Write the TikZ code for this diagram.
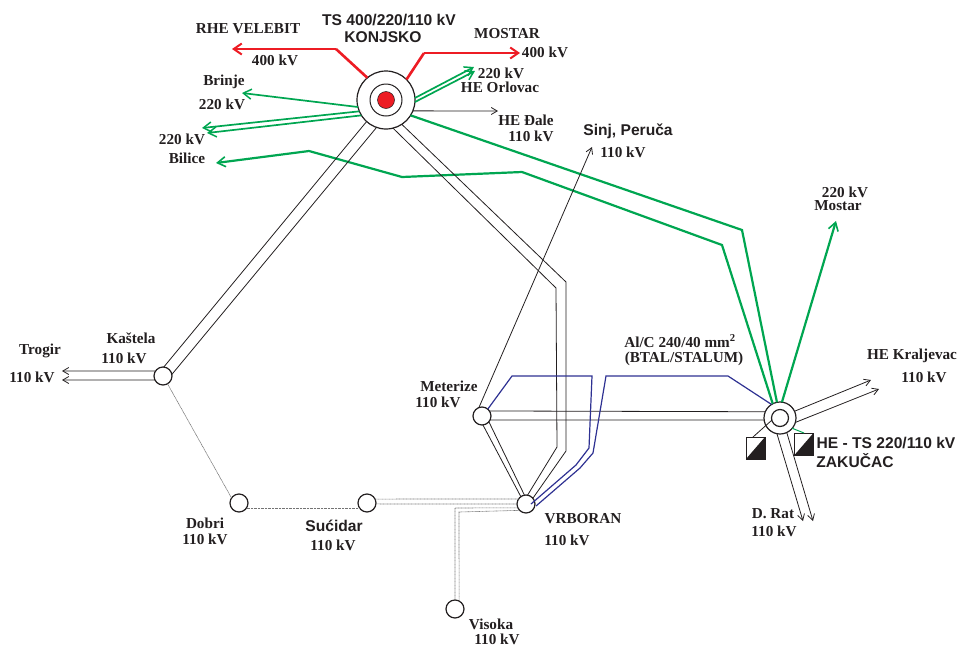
\documentclass[tikz,border=0pt]{standalone}
\usepackage{fontspec}
\setmainfont{Liberation Serif}
\newfontfamily\hfont{Liberation Sans}
\usetikzlibrary{arrows.meta}
\definecolor{gr}{HTML}{00A651}
\definecolor{rd}{HTML}{ED1C24}
\definecolor{bl}{HTML}{2E3192}
\definecolor{ink}{HTML}{231F20}
\tikzset{
  x=1pt,y=-1pt,
  st/.style={circle,draw=ink,fill=white,line width=1.2pt,minimum size=#1,inner sep=0pt,outer sep=0pt},
  lb/.style={font=\fontsize{15.2}{17}\selectfont\bfseries,text=ink,inner sep=0pt},
  hb/.style={font=\fontsize{15.6}{18}\selectfont\bfseries\hfont,text=ink,inner sep=0pt},
  ar/.style={-{Straight Barb[length=6pt,width=7pt,line width=.8pt]}},
  redl/.style={draw=rd,line width=2.6pt},
  redar/.style={redl,-{Straight Barb[length=8pt,width=11pt,line width=2pt]}},
  grn/.style={draw=gr,line width=2.2pt},
  grnar/.style={draw=gr,line width=1.7pt,-{Straight Barb[length=8pt,width=10pt,line width=1.5pt]}},
  blk/.style={draw=ink,line width=.8pt},
  blkar/.style={blk,ar},
  blu/.style={draw=bl,line width=1.2pt},
  dot/.style={draw=black!55,line width=.6pt,dash pattern=on .9pt off .5pt},
  sq/.style={rectangle,draw=ink,fill=white,line width=.8pt,inner sep=0pt,outer sep=0pt,minimum width=19pt,minimum height=22pt},
}
\begin{document}
\begin{tikzpicture}
\useasboundingbox (0,0) rectangle (959,646);
\clip (0,0) rectangle (959,646);
% stations
\node[st=58pt] (kon) at (386,100) {};
\node[st=32pt,fill=none,line width=1pt] (koni) at (386,100) {};
\node[circle,fill=rd,draw=ink,line width=.5pt,minimum size=17pt,inner sep=0pt] (konc) at (386,100) {};
\node[st=32pt] (zak) at (780,418) {};
\node[st=17pt] (zaki) at (780,418) {};
\node[st=18pt] (kas) at (163,376) {};
\node[st=18pt] (dob) at (239,503) {};
\node[st=18pt] (suc) at (367,503) {};
\node[st=18pt] (vrb) at (526,504) {};
\node[st=18pt] (met) at (482,416) {};
\node[st=18pt] (vis) at (455,609) {};
\node[sq] (b1) at (755.5,448) {};
\node[sq] (b2) at (804,444) {};
\fill[ink] (b1.north east) -- (b1.south east) -- (b1.south west) -- cycle;
\fill[ink] (b2.north east) -- (b2.south east) -- (b2.south west) -- cycle;
% free ends
\coordinate (tRhe) at (232,49);
\coordinate (bRhe) at (336,49);
\coordinate (bMos) at (424,53);
\coordinate (tMos) at (520,53);
\coordinate (tOr1) at (474,67);
\coordinate (tOr2) at (475,71);
\coordinate (tBr) at (242,93);
\coordinate (tBi1) at (202,128);
\coordinate (tBi2) at (207,133);
\coordinate (tBi) at (216,163);
\coordinate (tDa) at (498,111);
\coordinate (tSi) at (592,147);
\coordinate (tMo) at (836,221);
\coordinate (tTr1) at (62,371);
\coordinate (tTr2) at (62,380);
\coordinate (tKr1) at (871,380);
\coordinate (tKr2) at (879,389);
\coordinate (tDr1) at (803,521);
\coordinate (tDr2) at (813,521);
\coordinate (bvA) at (531,504);
\coordinate (bvB) at (536,506);
% red
\draw[redl] (kon.130) -- (bRhe);
\draw[redar] (bRhe) -- (tRhe);
\draw[redl] (kon.45) -- (bMos);
\draw[redar] (bMos) -- (tMos);
% green
\draw[grnar] (kon.4) -- (tOr1);
\draw[grnar] (kon.-4) -- (tOr2);
\draw[grnar] (kon.194) -- (tBr);
\draw[grnar] (kon.203) -- (tBi1);
\draw[grnar] (kon.212) -- (tBi2);
\draw[grn] (kon.-32) -- (742,230) -- (zak.101);
\draw[grn,-{Straight Barb[length=8pt,width=10pt,line width=1.6pt]}] (zak.117) -- (722,245) -- (522,172) -- (402,177) -- (309,151) -- (tBi);
\draw[grn,-{Straight Barb[length=8pt,width=10pt,line width=1.6pt]}] (zak.83) -- (tMo);
\draw[draw=gr,line width=1pt] (zak.-40) -- (b2.north);
% black
\draw[blkar] (kon.-22) -- (tDa);
\draw[blkar] (met.110) -- (tSi);
\draw[blk] (kon.228) -- (kas.85);
\draw[blk] (kon.251) -- (kas.10);
\draw[blk] (kon.-76) -- (556,288) -- (557,447) -- (vrb.80);
\draw[blk] (kon.-57) -- (566,282) -- (566,451) -- (vrb.40);
\draw[blk] (met.-84) -- (vrb.125);
\draw[blk] (met.-40) -- (vrb.100);
\draw[blk] (met.34) -- (zak.157);
\draw[blk] (met.-26) -- (zak.187);
\draw[blkar] (kas.146) -- (tTr1);
\draw[blkar] (kas.206) -- (tTr2);
\draw[blkar] (zak.25) -- (tKr1);
\draw[blkar] (zak.-16) -- (tKr2);
\draw[blkar] (zak.-101) -- (tDr1);
\draw[blkar] (zak.-65) -- (tDr2);
\draw[blk] (zaki.195) -- (753,437);
% blue
\draw[blu] (met.50) -- (512,376) -- (592,376) -- (589,448) -- (576,465) -- (bvA);
\draw[blu] (zak.122) -- (728,376) -- (606,376) -- (593,453) -- (580,468) -- (bvB);
% dotted
\draw[dot] (kas.-60) -- (dob.146);
\draw[dot] (dob.-33) -- (suc.213);
\draw[dot] (suc.26) -- (vrb.146);
\draw[dot] (suc.-6) -- (vrb.180);
\draw[dot] (vis.90) -- (455,508) -- (vrb.205);
\draw[dot] (vis.63) -- (459,512) -- (vrb.225);
% labels
\node[hb] (l1) at (389,20) {TS 400/220/110 kV};
\node[hb] (l2) at (383,37) {KONJSKO};
\node[lb] (l3) at (248,29) {RHE VELEBIT};
\node[lb] (l4) at (275,60) {400 kV};
\node[lb] (l5) at (507,34) {MOSTAR};
\node[lb] (l6) at (545,52) {400 kV};
\node[lb] (l7) at (224,82) {Brinje};
\node[lb] (l8) at (222,104) {220 kV};
\node[lb] (l9) at (501,73) {220 kV};
\node[lb] (l10) at (500,87) {HE Orlovac};
\node[lb] (l11) at (526,120) {HE Đale};
\node[lb] (l12) at (531,136) {110 kV};
\node[lb] (l13) at (182,139) {220 kV};
\node[lb] (l14) at (187,158) {Bilice};
\node[hb] (l15) at (628,131) {Sinj, Peruča};
\node[lb] (l16) at (623,152) {110 kV};
\node[lb] (l17) at (845,192) {220 kV};
\node[lb] (l18) at (838,206) {Mostar};
\node[lb] (l19) at (680,341) {Al/C 240/40 mm\textsuperscript{2}};
\node[lb] (l20) at (684,359) {(BTAL/STALUM)};
\node[lb] (l21) at (912,356) {HE Kraljevac};
\node[lb] (l22) at (924,377) {110 kV};
\node[hb] (l23) at (886,443) {HE - TS 220/110 kV};
\node[hb] (l24) at (855,461) {ZAKUČAC};
\node[lb] (l25) at (773,514) {D. Rat};
\node[lb] (l26) at (774,531) {110 kV};
\node[lb] (l27) at (583,519) {VRBORAN};
\node[lb] (l28) at (567,540) {110 kV};
\node[lb] (l29) at (449,386) {Meterize};
\node[lb] (l30) at (438,402) {110 kV};
\node[lb] (l31) at (131,338) {Kaštela};
\node[lb] (l32) at (124,358) {110 kV};
\node[lb] (l33) at (40,351) {Trogir};
\node[lb] (l34) at (32,377) {110 kV};
\node[lb] (l35) at (205,523) {Dobri};
\node[lb] (l36) at (205,539) {110 kV};
\node[hb] (l37) at (334,526) {Sućidar};
\node[lb] (l38) at (333,545) {110 kV};
\node[lb] (l39) at (491,624) {Visoka};
\node[lb] (l40) at (497,639) {110 kV};
\end{tikzpicture}
\end{document}
